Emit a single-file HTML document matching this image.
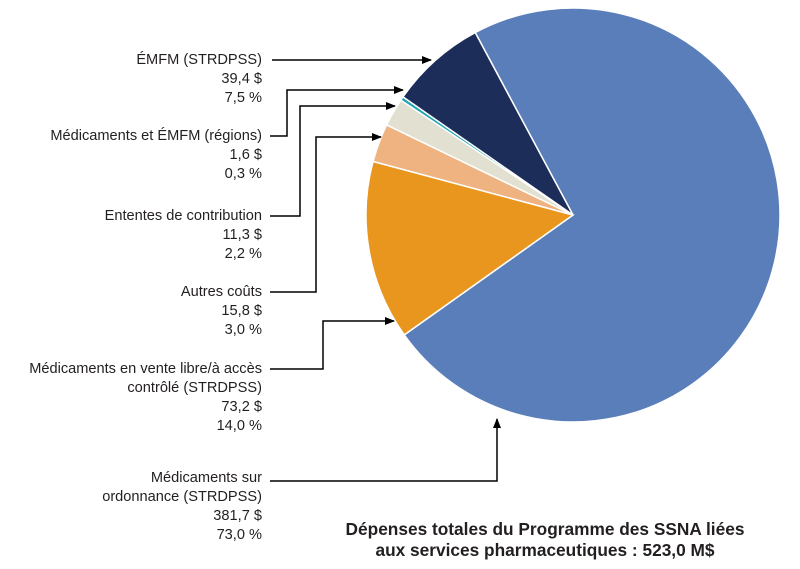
<!DOCTYPE html>
<html><head><meta charset="utf-8"><style>
html,body{margin:0;padding:0;background:#fff;}
svg{display:block;font-family:"Liberation Sans",sans-serif;}
.lbl{font-size:14.6px;fill:#231f20;}
.ttl{font-size:17.3px;font-weight:bold;fill:#231f20;}
</style></head><body>
<svg width="800" height="569" viewBox="0 0 800 569">
<defs><marker id="ah" markerWidth="10" markerHeight="8" refX="9" refY="4" orient="auto" markerUnits="userSpaceOnUse"><path d="M0,0 L10,4 L0,8 Z" fill="#000"/></marker></defs>
<g id="slices"></g>
<g id="labels"></g>
<g stroke="#000" stroke-width="1.5" fill="none">
<polyline points="272,60 431,60" marker-end="url(#ah)"/>
<polyline points="270,136 287,136 287,90 403,90" marker-end="url(#ah)"/>
<polyline points="270,216 300,216 300,106 395,106" marker-end="url(#ah)"/>
<polyline points="270,292 316,292 316,137 381,137" marker-end="url(#ah)"/>
<polyline points="270,369 323,369 323,321 394,321" marker-end="url(#ah)"/>
<polyline points="270,481 497,481 497,419" marker-end="url(#ah)"/>
</g>
<text class="ttl" x="545" y="535" text-anchor="middle">Dépenses totales du Programme des SSNA liées</text>
<text class="ttl" x="545" y="556" text-anchor="middle">aux services pharmaceutiques : 523,0 M$</text>
</svg>
<script>
const categories = ["Médicaments sur ordonnance (STRDPSS)","Médicaments en vente libre/à accès contrôlé (STRDPSS)","Autres coûts","Ententes de contribution","Médicaments et ÉMFM (régions)","ÉMFM (STRDPSS)"];
const amounts = ["381,7 $","73,2 $","15,8 $","11,3 $","1,6 $","39,4 $"];
const percents = [73.0,14.0,3.0,2.2,0.3,7.5];
const colors = ["#5a7eba","#e8961e","#efb381","#e2e0d1","#1fa5b3","#1c2d59"];
const labelLines = [
 ["Médicaments sur","ordonnance (STRDPSS)"],
 ["Médicaments en vente libre/à accès","contrôlé (STRDPSS)"],
 ["Autres coûts"],["Ententes de contribution"],["Médicaments et ÉMFM (régions)"],["ÉMFM (STRDPSS)"]];
const labelTop = [482,373,296,220,140,64];
const NS="http://www.w3.org/2000/svg";
const cx=573, cy=215, r=207;
const total=percents.reduce((a,b)=>a+b,0);
let ang=-28.2;
const g=document.getElementById('slices');
function pt(a){const t=a*Math.PI/180;return [cx+r*Math.sin(t), cy-r*Math.cos(t)];}
percents.forEach((v,i)=>{
 const sweep=v/total*360;
 const [x1,y1]=pt(ang),[x2,y2]=pt(ang+sweep);
 const p=document.createElementNS(NS,'path');
 p.setAttribute('d',`M${cx},${cy} L${x1},${y1} A${r},${r} 0 ${sweep>180?1:0} 1 ${x2},${y2} Z`);
 p.setAttribute('fill',colors[i]);p.setAttribute('stroke','#fff');p.setAttribute('stroke-width','1.5');
 
 
 g.appendChild(p);
 ang+=sweep;
});
const lg=document.getElementById('labels');
categories.forEach((c,i)=>{
 const lines=[...labelLines[i],amounts[i],percents[i].toFixed(1).replace('.',',')+' %'];
 const t=document.createElementNS(NS,'text');
 t.setAttribute('class','lbl');t.setAttribute('text-anchor','end');
 
 
 lines.forEach((l,k)=>{const s=document.createElementNS(NS,'tspan');s.setAttribute('x','262');s.setAttribute('y',labelTop[i]+k*19);s.textContent=l;t.appendChild(s);});
 lg.appendChild(t);
});
</script>
</body></html>
